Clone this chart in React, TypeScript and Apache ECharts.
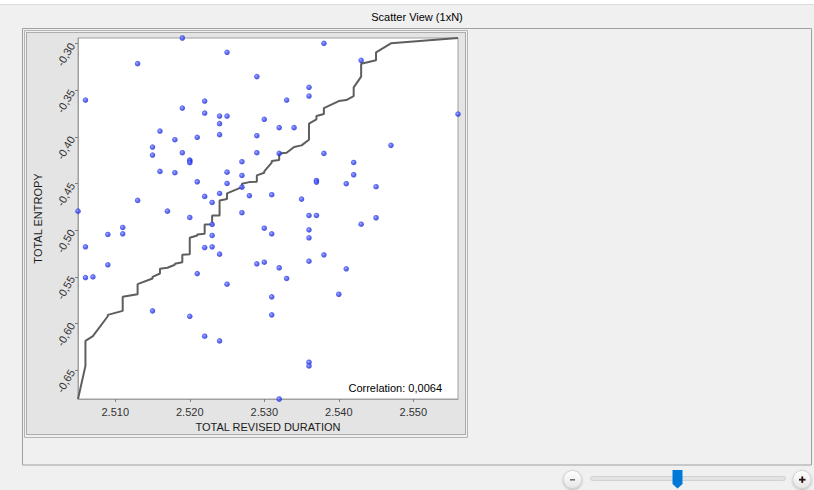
import React, { useEffect, useRef } from 'react';
import * as echarts from 'echarts';

const TITLE = 'Scatter View (1xN)';
const X_NAME = 'TOTAL REVISED DURATION';
const Y_NAME = 'TOTAL ENTROPY';
const CORRELATION_LABEL = 'Correlation: 0,0064';

const X_MIN = 2.505;
const X_MAX = 2.556;
const Y_MIN = -0.681;
const Y_MAX = -0.294;
const X_TICK_STEP = 0.01;
const Y_TICK_STEP = 0.05;

// TOTAL REVISED DURATION of each point
const durations = [
  2.519, 2.513, 2.506, 2.522, 2.519, 2.522, 2.516, 2.521, 2.518, 2.515,
  2.519, 2.515, 2.520, 2.520, 2.520, 2.516, 2.518, 2.521, 2.522, 2.513,
  2.505, 2.517, 2.520, 2.538, 2.525, 2.529, 2.536, 2.536, 2.533, 2.524,
  2.525, 2.524, 2.530, 2.532, 2.534, 2.524, 2.529, 2.529, 2.532, 2.538,
  2.527, 2.525, 2.527, 2.525, 2.527, 2.537, 2.537, 2.524, 2.523, 2.528,
  2.531, 2.535, 2.527, 2.536, 2.537, 2.543, 2.556, 2.547, 2.542, 2.542,
  2.541, 2.545, 2.545, 2.511, 2.509, 2.511, 2.506, 2.522, 2.509, 2.506,
  2.507, 2.521, 2.515, 2.520, 2.522, 2.523, 2.523, 2.523, 2.524, 2.530,
  2.531, 2.536, 2.536, 2.538, 2.536, 2.529, 2.530, 2.532, 2.533, 2.525,
  2.531, 2.531, 2.524, 2.536, 2.536, 2.532, 2.543, 2.541, 2.540,
];

// TOTAL ENTROPY of each point
const entropies = [
  -0.294, -0.3215, -0.3605, -0.3616, -0.3691, -0.3745, -0.3938, -0.4005, -0.403, -0.4109,
  -0.417, -0.4195, -0.4248, -0.4258, -0.4277, -0.437, -0.4384, -0.4481, -0.4638, -0.4681,
  -0.4796, -0.4796, -0.4864, -0.2997, -0.3093, -0.3354, -0.3469, -0.3562, -0.3605, -0.3777,
  -0.3777, -0.3858, -0.3812, -0.3901, -0.3901, -0.3976, -0.3987, -0.417, -0.4177, -0.4177,
  -0.4266, -0.4378, -0.4413, -0.4499, -0.4539, -0.4467, -0.4485, -0.4606, -0.4703, -0.4631,
  -0.462, -0.4667, -0.4813, -0.4842, -0.4842, -0.3179, -0.3755, -0.4091, -0.4274, -0.4406,
  -0.4502, -0.4534, -0.4867, -0.4971, -0.5046, -0.5039, -0.5178, -0.5186, -0.5371, -0.5508,
  -0.55, -0.5465, -0.5865, -0.5923, -0.6137, -0.4939, -0.5057, -0.5178, -0.5257, -0.4979,
  -0.5039, -0.4996, -0.5082, -0.5264, -0.5333, -0.5361, -0.5343, -0.5403, -0.5518, -0.5579,
  -0.5715, -0.5908, -0.6187, -0.6416, -0.6455, -0.681, -0.4936, -0.5414, -0.5687,
];

const FONT = '"Liberation Sans", Arial, sans-serif';

export default function App() {
  const ref = useRef<HTMLDivElement>(null);

  useEffect(() => {
    if (!ref.current) return;
    const chart = echarts.init(ref.current, undefined, { renderer: 'svg' });

    const points = durations.map((x, i) => [x, entropies[i]]);
    const sortedX = [...durations].sort((a, b) => a - b);
    const sortedY = [...entropies].sort((a, b) => a - b);
    const qqLine = sortedX.map((x, i) => [x, sortedY[i]]);

    const isMultiple = (v: number, step: number) =>
      Math.abs(v / step - Math.round(v / step)) < 1e-6;

    const txt = (
      text: string,
      x: number,
      y: number,
      align: string,
      extra: any = {}
    ) => ({
      type: 'text',
      x,
      y,
      z: 20,
      style: {
        text,
        fontSize: 11,
        fontFamily: FONT,
        fill: '#000',
        textAlign: align,
        align,
        textVerticalAlign: 'middle',
        verticalAlign: 'middle',
        ...extra,
      },
    });

    const dotColor = new echarts.graphic.RadialGradient(0.4, 0.4, 0.6, [
      { offset: 0, color: '#9aa6ff' },
      { offset: 0.4, color: '#4152ff' },
      { offset: 1, color: '#1c28c8' },
    ]);

    const btnFill = new echarts.graphic.LinearGradient(0, 0, 0, 1, [
      { offset: 0, color: '#ffffff' },
      { offset: 1, color: '#e6e6e6' },
    ]);

    chart.setOption({
      animation: false,
      textStyle: { fontFamily: FONT },
      grid: {
        left: 78,
        top: 38,
        width: 380,
        height: 361,
        show: true,
        backgroundColor: '#ffffff',
        borderColor: '#a0a0a0',
        borderWidth: 1,
        containLabel: false,
        outerBoundsMode: 'none',
      },
      xAxis: {
        type: 'value',
        min: X_MIN,
        max: X_MAX,
        minInterval: X_TICK_STEP,
        maxInterval: X_TICK_STEP,
        name: X_NAME,
        nameLocation: 'middle',
        nameGap: 18,
        nameTextStyle: { color: '#1a1a1a', fontSize: 11, fontFamily: FONT },
        axisLine: { show: true, onZero: false, lineStyle: { color: '#a0a0a0' } },
        axisTick: { show: true, length: 3, lineStyle: { color: '#808080' } },
        axisLabel: {
          fontSize: 11,
          color: '#333',
          margin: 7,
          showMinLabel: false,
          showMaxLabel: false,
          formatter: (v: number) => (isMultiple(v, X_TICK_STEP) ? v.toFixed(3) : ''),
        },
        splitLine: { show: false },
      },
      yAxis: {
        type: 'value',
        min: Y_MIN,
        max: Y_MAX,
        minInterval: Y_TICK_STEP,
        maxInterval: Y_TICK_STEP,
        name: Y_NAME,
        nameLocation: 'middle',
        nameGap: 35,
        nameTextStyle: { color: '#1a1a1a', fontSize: 11, fontFamily: FONT },
        axisLine: { show: true, onZero: false, lineStyle: { color: '#a0a0a0' } },
        axisTick: { show: true, length: 3, lineStyle: { color: '#808080' } },
        axisLabel: {
          fontSize: 11,
          color: '#333',
          margin: 6,
          rotate: 60,
          showMinLabel: false,
          showMaxLabel: false,
          formatter: (v: number) =>
            isMultiple(v, Y_TICK_STEP) ? v.toFixed(2).replace('.', ',') : '',
        },
        splitLine: { show: false },
      },
      series: [
        {
          type: 'line',
          data: qqLine,
          symbol: 'none',
          showSymbol: false,
          silent: true,
          lineStyle: { color: '#5e5e5e', width: 2 },
          z: 2,
        },
        {
          type: 'scatter',
          data: points,
          symbol: 'circle',
          symbolSize: 5.5,
          itemStyle: { color: dotColor },
          z: 3,
        },
      ],
      graphic: [
        { type: 'rect', z: -30, shape: { x: 0, y: 0, width: 814, height: 490 }, style: { fill: '#f0f0f0' } },
        { type: 'rect', z: -29, shape: { x: 0, y: 0, width: 814, height: 4 }, style: { fill: '#ffffff' } },
        { type: 'line', z: -29, shape: { x1: 0, y1: 4.5, x2: 814, y2: 4.5 }, style: { stroke: '#dadada', lineWidth: 1 } },
        {
          type: 'rect',
          z: -28,
          shape: { x: 22.5, y: 28.5, width: 789, height: 436.5 },
          style: { fill: 'none', stroke: '#a0a0a0', lineWidth: 1 },
        },
        {
          type: 'rect',
          z: -27,
          shape: { x: 26.5, y: 32.5, width: 439, height: 402 },
          style: { fill: '#e4e4e4', stroke: '#6e6e6e', lineWidth: 1, lineDash: [1, 1] },
        },
        {
          type: 'rect',
          z: -27,
          shape: { x: 24.5, y: 30.5, width: 443, height: 407 },
          style: { fill: 'none', stroke: '#b4b4b4', lineWidth: 1 },
        },
        txt(TITLE, 417, 17, 'center'),
        txt(CORRELATION_LABEL, 442, 388, 'right'),
        // zoom slider
        {
          type: 'rect',
          z: 10,
          shape: { x: 590.5, y: 476.5, width: 195, height: 4, r: 2 },
          style: { fill: '#e2e2e2', stroke: '#d2d2d2', lineWidth: 1 },
        },
        {
          type: 'circle',
          z: 10,
          shape: { cx: 572.5, cy: 479.5, r: 9 },
          style: { fill: btnFill, stroke: '#d4d4d4', lineWidth: 1, shadowBlur: 2, shadowColor: 'rgba(0,0,0,0.25)', shadowOffsetY: 1 },
        },
        {
          type: 'circle',
          z: 10,
          shape: { cx: 802, cy: 479.5, r: 9 },
          style: { fill: btnFill, stroke: '#d4d4d4', lineWidth: 1, shadowBlur: 2, shadowColor: 'rgba(0,0,0,0.25)', shadowOffsetY: 1 },
        },
        {
          type: 'rect',
          z: 11,
          shape: { x: 570, y: 479, width: 5, height: 1.6 },
          style: { fill: '#707070' },
        },
        {
          type: 'rect',
          z: 11,
          shape: { x: 799, y: 478.8, width: 6.5, height: 1.8 },
          style: { fill: '#2a1010' },
        },
        {
          type: 'rect',
          z: 11,
          shape: { x: 801.35, y: 476.4, width: 1.8, height: 6.5 },
          style: { fill: '#2a1010' },
        },
        {
          type: 'polygon',
          z: 12,
          shape: {
            points: [
              [672.5, 470],
              [682.5, 470],
              [682.5, 484],
              [677.5, 488.5],
              [672.5, 484],
            ],
          },
          style: { fill: '#0078d7' },
        },
      ],
    });

    return () => chart.dispose();
  }, []);

  return (
    <div
      ref={ref}
      style={{ position: 'absolute', left: 0, top: 0, width: 814, height: 490 }}
    />
  );
}
